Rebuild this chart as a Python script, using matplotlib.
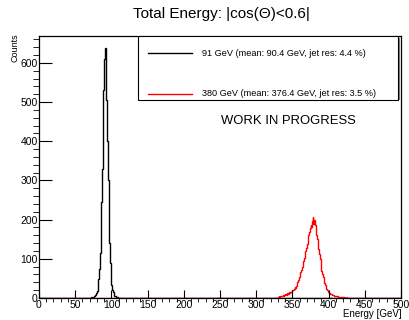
import matplotlib.pyplot as plt
import numpy as np

plt.rcParams['font.family'] = ['Liberation Sans', 'DejaVu Sans']

# 1 GeV bins over the full 0-500 GeV range, only the populated windows listed
BIN_WIDTH = 1
E_MIN, E_MAX = 0, 500

# 91 GeV sample, counts per bin starting at 70 GeV
start_91 = 70
counts_91 = [1, 0, 2, 1, 3, 2, 4, 5, 8, 12,
             18, 30, 48, 75, 115, 170, 245, 330, 430, 530,
             610, 638, 590, 505, 400, 300, 210, 140, 90, 56,
             34, 21, 14, 9, 6, 5, 3, 3, 2, 1,
             1, 1, 0, 1]

# 380 GeV sample, counts per bin starting at 330 GeV
start_380 = 330
counts_380 = [3, 4, 3, 5, 4, 6, 5, 7, 6, 8,
              9, 8, 10, 12, 11, 14, 13, 16, 15, 19,
              21, 20, 24, 27, 26, 31, 35, 40, 46, 53,
              60, 66, 72, 78, 86, 94, 102, 110, 120, 128,
              138, 150, 160, 168, 178, 186, 182, 196, 206, 190,
              200, 185, 175, 160, 150, 138, 125, 112, 100, 88,
              70, 62, 54, 46, 38, 32, 27, 23, 19, 16,
              14, 12, 11, 10, 9, 8, 7, 6, 6, 5,
              5, 4, 4, 3, 3, 3, 3, 2, 2, 2,
              2, 1, 2, 1, 1, 2, 1, 1, 0, 1,
              1, 0, 1, 1, 0, 1, 0, 0, 1, 0]

labels = ['91 GeV (mean: 90.4 GeV, jet res: 4.4 %)',
          '380 GeV (mean: 376.4 GeV, jet res: 3.5 %)']
colors = ['black', 'red']


def full_histogram(start, counts):
    edges = np.arange(E_MIN, E_MAX + BIN_WIDTH, BIN_WIDTH)
    h = np.zeros(len(edges) - 1)
    i0 = (start - E_MIN) // BIN_WIDTH
    h[i0:i0 + len(counts)] = counts
    return edges, h


fig = plt.figure(figsize=(4.1, 3.2), dpi=100)
ax = fig.add_axes([0.0951, 0.069, 0.883, 0.8187])

for (start, counts), c in zip([(start_91, counts_91), (start_380, counts_380)], colors):
    edges, h = full_histogram(start, counts)
    ax.stairs(h, edges, color=c, lw=1.0)

ax.set_xlim(E_MIN, E_MAX)
ax.set_ylim(0, 669)
ax.set_xticks(np.arange(0, 501, 50))
ax.set_xticks(np.arange(0, 501, 10), minor=True)
ax.set_yticks(np.arange(0, 601, 100))
ax.set_yticks(np.arange(0, 669, 20), minor=True)
ax.tick_params(axis='both', direction='in', labelsize=7.5, width=0.8)
ax.tick_params(axis='x', which='major', length=6, pad=1.5)
ax.tick_params(axis='x', which='minor', length=3)
ax.tick_params(axis='y', which='major', length=9, pad=1)
ax.tick_params(axis='y', which='minor', length=4.5)
for s in ax.spines.values():
    s.set_linewidth(0.9)

fig.text(0.98, 0.018, 'Energy [GeV]', ha='right', va='center', fontsize=7)
fig.text(0.037, 0.85, 'Counts', rotation=90, ha='center', va='center', fontsize=6.5)
fig.text(0.541, 0.955, 'Total Energy: |cos(\u0398)<0.6|', ha='center', va='center', fontsize=11)

# legend box drawn by hand, positions given in figure pixels
fig_to_ax = lambda x, y: ax.transAxes.inverted().transform(fig.transFigure.transform((x / 410, 1 - y / 320)))
x0, y0 = fig_to_ax(138, 100)
x1, y1 = fig_to_ax(398, 36)
ax.add_patch(plt.Rectangle((x0, y0), x1 - x0, y1 - y0, transform=ax.transAxes,
                           fill=True, facecolor='white', edgecolor='black', lw=0.8, zorder=5))
sx0, _ = fig_to_ax(398, 100)
sx1, sy1 = fig_to_ax(400, 38)
ax.add_patch(plt.Rectangle((sx0, y0), sx1 - sx0, sy1 - y0, transform=ax.transAxes,
                           facecolor='#808080', edgecolor='none', zorder=4, clip_on=False))
for lab, c, ypix in zip(labels, colors, [53, 94]):
    lx0, ly = fig_to_ax(148, ypix)
    lx1, _ = fig_to_ax(192, ypix)
    tx, _ = fig_to_ax(202, ypix)
    ax.plot([lx0, lx1], [ly, ly], color=c, lw=1.0, transform=ax.transAxes, zorder=6)
    ax.text(tx, ly, lab, fontsize=6.6, va='center', ha='left', transform=ax.transAxes, zorder=6)

wx, wy = fig_to_ax(288, 121)
ax.text(wx, wy, 'WORK IN PROGRESS', fontsize=9.4, ha='center', va='center', transform=ax.transAxes)

fig.savefig('out.png', dpi=100)
